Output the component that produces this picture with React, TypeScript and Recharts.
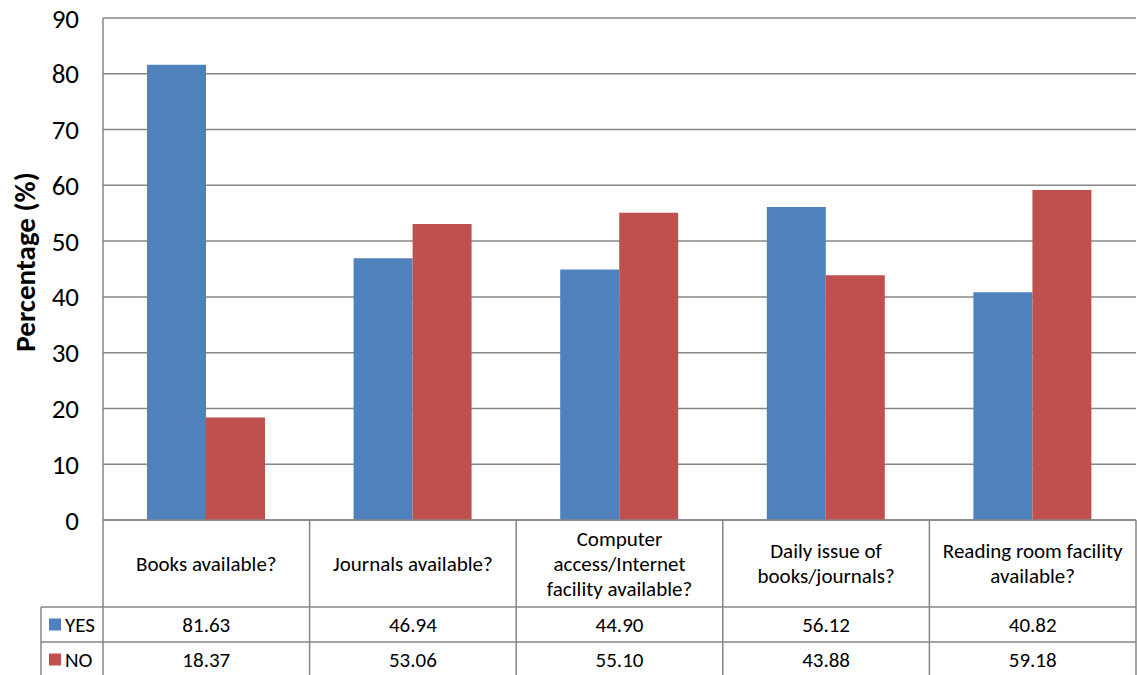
import { BarChart, Bar, XAxis, YAxis, CartesianGrid } from 'recharts';

const categories = [
  ['Books available?'],
  ['Journals available?'],
  ['Computer', 'access/Internet', 'facility available?'],
  ['Daily issue of', 'books/journals?'],
  ['Reading room facility', 'available?'],
];
const yesValues = [81.63, 46.94, 44.9, 56.12, 40.82];
const noValues = [18.37, 53.06, 55.1, 43.88, 59.18];
const yTicks = [0, 10, 20, 30, 40, 50, 60, 70, 80, 90];

const data = categories.map((lines, i) => ({
  name: lines.join(' '),
  lines,
  yes: yesValues[i],
  no: noValues[i],
}));

const W = 1137;
const H = 675;
const LEFT = 103;
const RIGHT = 1;
const TOP = 18;
const AXIS_H = 155;
const FONT = 'Carlito, Lato, sans-serif';
const GRID = '#868686';
const BLUE = '#4F81BD';
const RED = '#C0504D';
const HEADER_H = 87;
const ROW_H = 35;
const TXT = 21;

const cellW = (W - LEFT - RIGHT) / categories.length;

function TableTick(props: any) {
  const { x, y, payload, index } = props;
  const item = data[index] ?? data[0];
  const left = x - cellW / 2;
  const right = x + cellW / 2;
  const headerMid = y + HEADER_H / 2;
  const lh = 25;
  const n = item.lines.length;
  const fmt = (v: number) => v.toFixed(2);
  return (
    <g>
      <line x1={right} y1={y} x2={right} y2={H} stroke={GRID} strokeWidth={1.5} />
      <line x1={left} y1={y + HEADER_H} x2={right} y2={y + HEADER_H} stroke={GRID} strokeWidth={1.5} />
      <line x1={left} y1={y + HEADER_H + ROW_H} x2={right} y2={y + HEADER_H + ROW_H} stroke={GRID} strokeWidth={1.5} />
      {item.lines.map((t: string, k: number) => (
        <text
          key={k}
          x={x}
          y={headerMid + (k - (n - 1) / 2) * lh}
          textAnchor="middle"
          dominantBaseline="central"
          fontFamily={FONT}
          fontSize={TXT}
          fill="#000"
        >
          {t}
        </text>
      ))}
      <text x={x} y={y + HEADER_H + ROW_H / 2} textAnchor="middle" dominantBaseline="central" fontFamily={FONT} fontSize={TXT} fill="#000">
        {fmt(item.yes)}
      </text>
      <text x={x} y={y + HEADER_H + ROW_H * 1.5} textAnchor="middle" dominantBaseline="central" fontFamily={FONT} fontSize={TXT} fill="#000">
        {fmt(item.no)}
      </text>
      {index === 0 && (
        <g>
          <line x1={left} y1={y} x2={left} y2={H} stroke={GRID} strokeWidth={1.5} />
          <line x1={41} y1={y + HEADER_H} x2={left} y2={y + HEADER_H} stroke={GRID} strokeWidth={1.5} />
          <line x1={41} y1={y + HEADER_H + ROW_H} x2={left} y2={y + HEADER_H + ROW_H} stroke={GRID} strokeWidth={1.5} />
          <line x1={41} y1={y + HEADER_H} x2={41} y2={H} stroke={GRID} strokeWidth={1.5} />
          <rect x={49} y={y + HEADER_H + ROW_H / 2 - 6} width={12} height={12} fill={BLUE} />
          <text x={65} y={y + HEADER_H + ROW_H / 2} dominantBaseline="central" fontFamily={FONT} fontSize={TXT} fill="#000">
            YES
          </text>
          <rect x={49} y={y + HEADER_H + ROW_H * 1.5 - 6} width={12} height={12} fill={RED} />
          <text x={65} y={y + HEADER_H + ROW_H * 1.5} dominantBaseline="central" fontFamily={FONT} fontSize={TXT} fill="#000">
            NO
          </text>
        </g>
      )}
      <title>{payload?.value}</title>
    </g>
  );
}

function YLabel(props: any) {
  const { viewBox } = props;
  const cx = viewBox.x + 25;
  const cy = viewBox.y + viewBox.height / 2 - 7;
  return (
    <text
      x={cx}
      y={cy}
      transform={`rotate(-90 ${cx} ${cy})`}
      textAnchor="middle"
      dominantBaseline="central"
      fontFamily={FONT}
      fontSize={29}
      fontWeight="bold"
      fill="#000"
    >
      Percentage (%)
    </text>
  );
}

export default function App() {
  return (
    <div style={{ position: 'absolute', left: 0, top: 0, width: W, height: H, background: '#fff' }}>
      <BarChart
        width={W}
        height={H}
        data={data}
        margin={{ top: TOP, right: RIGHT, bottom: 0, left: 0 }}
        barGap={0}
        barSize={59}
      >
        <CartesianGrid vertical={false} stroke={GRID} strokeWidth={1.5} />
        <XAxis
          dataKey="name"
          height={AXIS_H}
          interval={0}
          tickLine={false}
          tickSize={0}
          tickMargin={0}
          axisLine={{ stroke: GRID, strokeWidth: 1.5 }}
          tick={<TableTick />}
        />
        <YAxis
          width={LEFT}
          domain={[0, 90]}
          ticks={yTicks}
          interval={0}
          tickLine={false}
          tickSize={0}
          tickMargin={24}
          axisLine={{ stroke: GRID, strokeWidth: 1.5 }}
          tick={{ fontFamily: FONT, fontSize: 27, fill: '#000' }}
          label={<YLabel />}
        />
        <Bar dataKey="yes" name="YES" fill={BLUE} isAnimationActive={false} />
        <Bar dataKey="no" name="NO" fill={RED} isAnimationActive={false} />
      </BarChart>
    </div>
  );
}
